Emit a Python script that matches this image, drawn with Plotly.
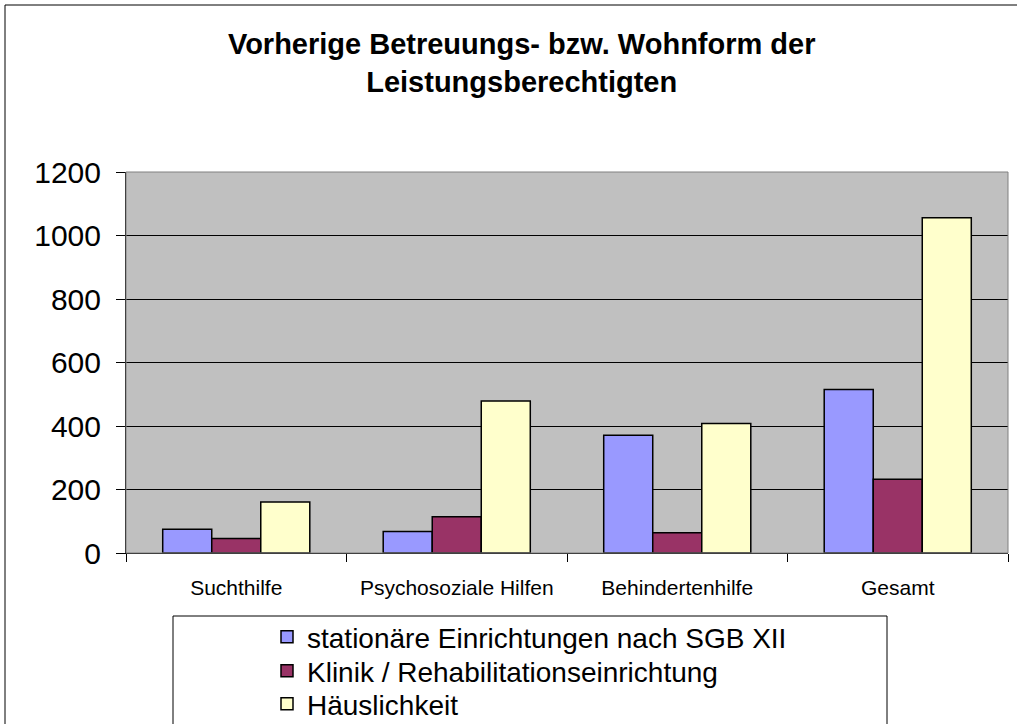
import plotly.graph_objects as go

# data
categories = ["Suchthilfe", "Psychosoziale Hilfen", "Behindertenhilfe", "Gesamt"]
stationaer = [75, 68, 371, 515]
klinik = [46, 114, 64, 232]
haeuslich = [161, 479, 408, 1056]
series_names = ["stationäre Einrichtungen nach SGB XII",
                "Klinik / Rehabilitationseinrichtung",
                "Häuslichkeit"]
y_ticks = [0, 200, 400, 600, 800, 1000, 1200]

FONT = "Liberation Sans, Arial, sans-serif"
colors = ["#9999FF", "#993366", "#FFFFCC"]

# plot area in pixels
W, H = 1017, 724
L, R, T, B = 126, 9, 172, 171
pw, ph = W - L - R, H - T - B

def px_x(x):
    return (x - L) / pw

def px_y(y):
    return (H - B - y) / ph

# one legend per series so the rows can sit as tight as in the original
legend_ids = ["legend", "legend2", "legend3"]
legend_rows = [637, 671, 704]

fig = go.Figure()
for name, vals, col, lg in zip(series_names, [stationaer, klinik, haeuslich], colors, legend_ids):
    fig.add_trace(go.Bar(
        x=categories, y=vals, name=name, legend=lg,
        marker=dict(color=col, line=dict(color="black", width=1.5)),
    ))

legend_style = {}
for lg, row in zip(legend_ids, legend_rows):
    legend_style[lg] = dict(
        x=267 / W, xref="container", xanchor="left",
        y=1 - row / H, yref="container", yanchor="middle",
        bgcolor="rgba(0,0,0,0)",
        borderwidth=0,
        font=dict(family=FONT, size=28, color="black"),
    )

fig.update_layout(
    width=W, height=H,
    margin=dict(l=L, r=R, t=T, b=B, pad=0, autoexpand=False),
    paper_bgcolor="white",
    plot_bgcolor="#C0C0C0",
    barmode="group",
    bargap=0.333,
    bargroupgap=0,
    font=dict(family=FONT, color="black"),
    title=dict(
        text="<b>Vorherige Betreuungs- bzw. Wohnform der<br>Leistungsberechtigten</b>",
        x=0.513, xref="container", xanchor="center",
        y=1 - 54 / H, yref="container", yanchor="top",
        font=dict(family=FONT, size=29, color="black"),
    ),
    showlegend=True,
    **legend_style,
    xaxis=dict(
        type="category",
        showgrid=False,
        showline=True, linecolor="black", linewidth=1,
        ticks="outside", ticklen=8, tickcolor="black",
        tickson="boundaries",
        tickfont=dict(family=FONT, size=21, color="black"),
        ticklabelstandoff=16,
        automargin=False,
    ),
    yaxis=dict(
        range=[0, 1200],
        tickvals=y_ticks,
        showgrid=True, gridcolor="black", gridwidth=1,
        showline=True, linecolor="black", linewidth=1,
        ticks="outside", ticklen=9, tickcolor="black",
        tickfont=dict(family=FONT, size=30, color="black"),
        ticklabelstandoff=9,
        zeroline=False,
        automargin=False,
    ),
    shapes=[
        # plot area border
        dict(type="rect", xref="paper", yref="paper", x0=0, x1=1, y0=0, y1=1,
             line=dict(color="#808080", width=1)),
        # outer chart border
        dict(type="rect", xref="paper", yref="paper",
             x0=px_x(5), x1=px_x(1030), y0=px_y(740), y1=px_y(5),
             line=dict(color="black", width=1)),
        # legend box
        dict(type="rect", xref="paper", yref="paper",
             x0=px_x(173), x1=px_x(887), y0=px_y(740), y1=px_y(616),
             line=dict(color="black", width=1)),
    ],
)

# page has a default body margin; drop it so the figure sits at 0,0
fig.write_html("out.html", config={"displayModeBar": False},
               post_script="document.body.style.margin='0';")
